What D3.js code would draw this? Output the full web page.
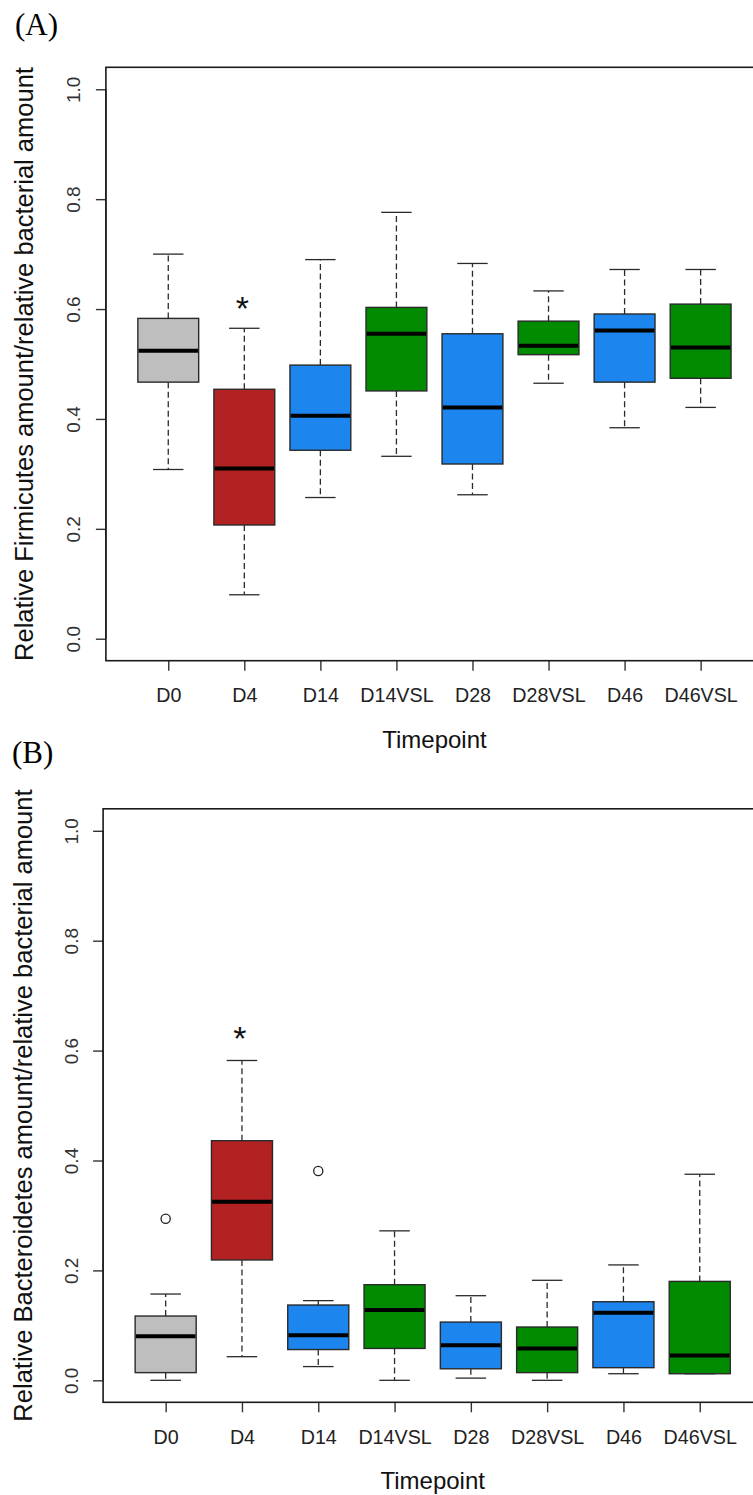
<!DOCTYPE html>
<html>
<head>
<meta charset="utf-8">
<script src="https://cdn.jsdelivr.net/npm/d3@7"></script>
<style>
  html, body { margin: 0; padding: 0; background: #fff; }
  svg { display: block; font-family: "Liberation Sans", Arial, sans-serif; }
</style>
</head>
<body>
<div id="chart"></div>
<script>
// ---- data ----
const categories = ["D0", "D4", "D14", "D14VSL", "D28", "D28VSL", "D46", "D46VSL"];
const yTicks = [0.0, 0.2, 0.4, 0.6, 0.8, 1.0];

// Relative Firmicutes amount: five-number summaries per timepoint
const firmLowerWhisker = [0.308, 0.080, 0.257, 0.332, 0.262, 0.465, 0.384, 0.421];
const firmQ1           = [0.467, 0.207, 0.343, 0.451, 0.318, 0.517, 0.467, 0.474];
const firmMedian       = [0.524, 0.310, 0.406, 0.555, 0.421, 0.533, 0.561, 0.530];
const firmQ3           = [0.583, 0.454, 0.498, 0.603, 0.555, 0.578, 0.591, 0.609];
const firmUpperWhisker = [0.700, 0.565, 0.690, 0.776, 0.683, 0.633, 0.672, 0.672];
const firmOutliers     = [];
const firmSignificance = [{ category: "D4", value: 0.616 }];

// Relative Bacteroidetes amount: five-number summaries per timepoint
const bactLowerWhisker = [0.000, 0.043, 0.025, 0.000, 0.004, 0.000, 0.012, 0.012];
const bactQ1           = [0.014, 0.219, 0.056, 0.058, 0.021, 0.014, 0.023, 0.012];
const bactMedian       = [0.080, 0.325, 0.082, 0.128, 0.064, 0.058, 0.123, 0.045];
const bactQ3           = [0.117, 0.436, 0.137, 0.174, 0.106, 0.097, 0.143, 0.180];
const bactUpperWhisker = [0.157, 0.582, 0.145, 0.272, 0.154, 0.182, 0.210, 0.375];
const bactOutliers     = [{ category: "D0", value: 0.294 }, { category: "D14", value: 0.381 }];
const bactSignificance = [{ category: "D4", value: 0.637 }];

// fill per timepoint: baseline grey, D4 red, plain follow-ups blue, VSL follow-ups green
const fillColors = ["#bebebe", "#b22222", "#1c86ee", "#008b00", "#1c86ee", "#008b00", "#1c86ee", "#008b00"];

// ---- layout ----
const W = 753, H = 1495;
const svg = d3.select("#chart").append("svg")
  .attr("width", W).attr("height", H);

function drawPanel(opt) {
  const { tag, tagPos, left, top, bottom, right, ytitle, ytitleX, ytickOffset,
          lower, q1, med, q3, upper, outliers, marks } = opt;

  const g = svg.append("g");

  // R-style 4% padding on both axes
  const x = d3.scaleLinear().domain([0.18, 8.82]).range([left, right]);
  const y = d3.scaleLinear().domain([-0.04, 1.04]).range([bottom, top]);
  const step = x(2) - x(1);
  const boxW = step * 0.8;
  const capW = boxW * 0.5;

  const rows = categories.map((c, i) => ({
    c, i, pos: i + 1,
    lo: lower[i], q1: q1[i], med: med[i], q3: q3[i], hi: upper[i], fill: fillColors[i]
  }));

  // whiskers (dashed) and staples
  const wg = g.append("g").attr("stroke", "#2a2a2a").attr("stroke-width", 1.3);
  rows.forEach(d => {
    const cx = x(d.pos);
    wg.append("line").attr("x1", cx).attr("x2", cx)
      .attr("y1", y(d.q3)).attr("y2", y(d.hi)).attr("stroke-dasharray", "6,3.5");
    wg.append("line").attr("x1", cx).attr("x2", cx)
      .attr("y1", y(d.q1)).attr("y2", y(d.lo)).attr("stroke-dasharray", "6,3.5");
    wg.append("line").attr("x1", cx - capW / 2).attr("x2", cx + capW / 2)
      .attr("y1", y(d.hi)).attr("y2", y(d.hi));
    wg.append("line").attr("x1", cx - capW / 2).attr("x2", cx + capW / 2)
      .attr("y1", y(d.lo)).attr("y2", y(d.lo));
  });

  // boxes
  g.append("g").selectAll("rect").data(rows).join("rect")
    .attr("x", d => x(d.pos) - boxW / 2)
    .attr("y", d => y(d.q3))
    .attr("width", boxW)
    .attr("height", d => y(d.q1) - y(d.q3))
    .attr("fill", d => d.fill)
    .attr("stroke", "#2a2a2a")
    .attr("stroke-width", 1.4);

  // medians
  g.append("g").selectAll("line").data(rows).join("line")
    .attr("x1", d => x(d.pos) - boxW / 2 + 0.7)
    .attr("x2", d => x(d.pos) + boxW / 2 - 0.7)
    .attr("y1", d => y(d.med)).attr("y2", d => y(d.med))
    .attr("stroke", "#000").attr("stroke-width", 4);

  // outliers
  g.append("g").selectAll("circle").data(outliers).join("circle")
    .attr("cx", d => x(categories.indexOf(d.category) + 1))
    .attr("cy", d => y(d.value))
    .attr("r", 4.6)
    .attr("fill", "none").attr("stroke", "#222").attr("stroke-width", 1.3);

  // significance marks
  const markSize = 34;
  g.append("g").selectAll("text").data(marks).join("text")
    .attr("x", d => x(categories.indexOf(d.category) + 1) - 2)
    .attr("y", d => y(d.value) + markSize * 0.58)
    .attr("text-anchor", "middle")
    .attr("font-size", markSize)
    .attr("fill", "#111")
    .text("*");

  // y axis
  const ya = g.append("g").attr("transform", `translate(${left},0)`)
    .call(d3.axisLeft(y).tickValues(yTicks).tickFormat(d3.format(".1f")).tickSize(10).tickSizeOuter(0));
  ya.attr("font-family", null).attr("font-size", null);
  ya.select(".domain").remove();
  ya.selectAll(".tick line").attr("stroke", "#333").attr("stroke-width", 1.4);
  ya.selectAll(".tick text")
    .attr("x", null).attr("dy", null)
    .attr("transform", `translate(${ytickOffset},0) rotate(-90)`)
    .attr("text-anchor", "middle")
    .style("font-size", "19px")
    .style("font-family", "'Liberation Sans', Arial, sans-serif")
    .attr("fill", "#333");
  // vertical axis line between first and last tick
  g.append("line").attr("x1", left).attr("x2", left)
    .attr("y1", y(0)).attr("y2", y(1)).attr("stroke", "#333").attr("stroke-width", 1.4);

  // x axis
  const xa = g.append("g").attr("transform", `translate(0,${bottom})`)
    .call(d3.axisBottom(x).tickValues(d3.range(1, categories.length + 1))
      .tickFormat(i => categories[i - 1]).tickSize(10).tickSizeOuter(0));
  xa.attr("font-family", null).attr("font-size", null);
  xa.select(".domain").remove();
  xa.selectAll(".tick line").attr("stroke", "#333").attr("stroke-width", 1.4);
  xa.selectAll(".tick text")
    .attr("y", 41.5).attr("dy", null)
    .style("font-size", "19.7px")
    .style("font-family", "'Liberation Sans', Arial, sans-serif")
    .attr("fill", "#222");

  // plot frame
  g.append("rect")
    .attr("x", left).attr("y", top)
    .attr("width", right - left).attr("height", bottom - top)
    .attr("fill", "none").attr("stroke", "#1a1a1a").attr("stroke-width", 1.6);

  // axis titles
  g.append("text")
    .attr("transform", `translate(${ytitleX},${(top + bottom) / 2}) rotate(-90)`)
    .attr("text-anchor", "middle")
    .attr("font-size", 25.5)
    .attr("fill", "#111")
    .text(ytitle);

  g.append("text")
    .attr("x", (left + right) / 2)
    .attr("y", bottom + 87)
    .attr("text-anchor", "middle")
    .attr("font-size", 24)
    .attr("fill", "#111")
    .text("Timepoint");

  // panel tag
  g.append("text")
    .attr("x", tagPos[0]).attr("y", tagPos[1])
    .style("font-family", "'Liberation Serif', 'Times New Roman', serif")
    .style("font-size", "31px")
    .attr("fill", "#000")
    .text(tag);
}

drawPanel({
  tag: "(A)", tagPos: [15, 35],
  left: 105.9, right: 763, top: 67.3, bottom: 660.7,
  ytitle: "Relative Firmicutes amount/relative bacterial amount",
  ytitleX: 33, ytickOffset: -26,
  lower: firmLowerWhisker, q1: firmQ1, med: firmMedian, q3: firmQ3, upper: firmUpperWhisker,
  outliers: firmOutliers, marks: firmSignificance
});

drawPanel({
  tag: "(B)", tagPos: [12, 763],
  left: 103.1, right: 762.3, top: 808.8, bottom: 1402.3,
  ytitle: "Relative Bacteroidetes amount/relative bacterial amount",
  ytitleX: 31.5, ytickOffset: -25,
  lower: bactLowerWhisker, q1: bactQ1, med: bactMedian, q3: bactQ3, upper: bactUpperWhisker,
  outliers: bactOutliers, marks: bactSignificance
});
</script>
</body>
</html>
